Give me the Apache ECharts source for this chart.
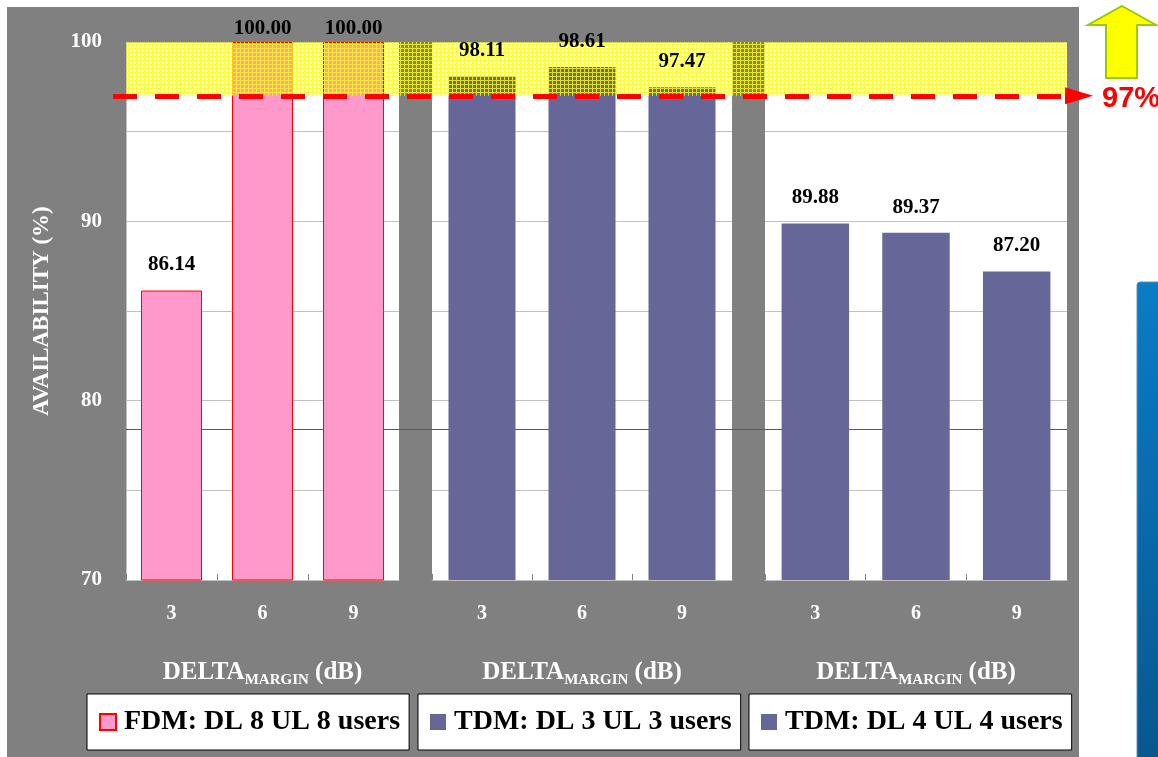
<!DOCTYPE html>
<html>
<head>
<meta charset="utf-8">
<script src="https://cdn.jsdelivr.net/npm/echarts@6/dist/echarts.min.js"></script>
<style>
html,body{margin:0;padding:0;background:#fff;}
#chart{width:1158px;height:757px;}
</style>
</head>
<body>
<div id="chart"></div>
<script>
// ---- data ----
const categories = ['3', '6', '9'];
const seriesNames = ['FDM: DL 8 UL 8 users', 'TDM: DL 3 UL 3 users', 'TDM: DL 4 UL 4 users'];
const fdmValues = [86.14, 100.00, 100.00];
const tdm3Values = [98.11, 98.61, 97.47];
const tdm4Values = [89.88, 89.37, 87.20];
const threshold = 97;
const yMin = 70, yMax = 100;
const darkRefLine = 78.4;
const thresholdLabel = '97%';

const SERIF = '"Liberation Serif", "DejaVu Serif", serif';
const WHITE = '#ffffff';

function makePattern() {
  const c = document.createElement('canvas');
  c.width = 4; c.height = 4;
  const g = c.getContext('2d');
  g.fillStyle = 'rgba(255,255,0,0.8)';
  g.fillRect(0, 0, 4, 1);
  g.fillRect(0, 1, 1, 3);
  return c;
}

const chart = echarts.init(document.getElementById('chart'), null, {renderer: 'canvas'});

const grids = [
  {left: 126, right: 759, top: 42, bottom: 177},
  {left: 432, right: 426, top: 42, bottom: 177},
  {left: 765, right: 91, top: 42, bottom: 177},
  {left: 126, right: 91, top: 42, bottom: 177},
  {left: 113, right: 79, top: 42, bottom: 177}
];

function xAxisFor(i) {
  return {
    type: 'category', gridIndex: i, data: categories,
    axisLine: {show: true, lineStyle: {color: '#c0c0c0', width: 1}},
    axisTick: {show: true, inside: true, length: 6, lineStyle: {color: '#808080'}},
    axisLabel: {color: WHITE, fontFamily: SERIF, fontWeight: 'bold', fontSize: 20, margin: 24},
    name: '{a|DELTA}{b|MARGIN}{a| (dB)}',
    nameLocation: 'middle', nameGap: 80,
    nameTextStyle: {
      rich: {
        a: {color: WHITE, fontFamily: SERIF, fontWeight: 'bold', fontSize: 25},
        b: {color: WHITE, fontFamily: SERIF, fontWeight: 'bold', fontSize: 15, verticalAlign: 'bottom', padding: [0, 0, -3, 0]}
      }
    }
  };
}

function yAxisFor(i, showLabels) {
  const ax = {
    type: 'value', gridIndex: i, min: yMin, max: yMax, interval: 5,
    axisLine: {show: showLabels, lineStyle: {color: '#c0c0c0'}},
    axisTick: {show: false},
    splitLine: {show: true, lineStyle: {color: '#c0c0c0', width: 1}},
    axisLabel: {
      show: showLabels, color: WHITE, fontFamily: SERIF, fontWeight: 'bold', fontSize: 21, margin: 24,
      formatter: v => (v % 10 === 0 ? String(v) : '')
    }
  };
  if (showLabels) {
    ax.name = 'AVAILABILITY (%)';
    ax.nameLocation = 'middle';
    ax.nameGap = 72;
    ax.nameRotate = 90;
    ax.nameTextStyle = {color: WHITE, fontFamily: SERIF, fontWeight: 'bold', fontSize: 23};
  }
  return ax;
}

function labelData(values) {
  return values.map(v => (v >= yMax ? {value: v, label: {distance: 3}} : v));
}

function barSeries(name, values, idx, color, border) {
  return {
    name: name, type: 'bar', xAxisIndex: idx, yAxisIndex: idx, z: 2,
    data: values, barWidth: '67%', barGap: '-100%',
    itemStyle: {color: color, borderColor: border || color, borderWidth: border ? 1 : 0}
  };
}

// transparent twin series that only carries the value labels (drawn above the band)
function labelSeries(values, idx) {
  return {
    type: 'bar', xAxisIndex: idx, yAxisIndex: idx, z: 20, silent: true,
    data: labelData(values), barWidth: '67%', barGap: '-100%',
    itemStyle: {color: 'rgba(0,0,0,0)'},
    label: {
      show: true, position: 'top', distance: 15, color: '#000',
      fontFamily: SERIF, fontWeight: 'bold', fontSize: 21,
      formatter: p => Number(p.value).toFixed(2)
    }
  };
}

const legendCommon = {
  orient: 'horizontal', top: 694, backgroundColor: '#fff', borderColor: '#000', borderWidth: 1,
  padding: [14, 9, 14, 12], itemWidth: 16, itemHeight: 16, itemGap: 6, icon: 'rect',
  textStyle: {color: '#000', fontFamily: SERIF, fontWeight: 'bold', fontSize: 28, padding: [0, 0, 0, 3]},
  selectedMode: false
};

const option = {
  backgroundColor: '#ffffff',
  animation: false,
  grid: grids.map((g, i) => Object.assign({show: i < 3, backgroundColor: '#ffffff', borderWidth: 0}, g)),
  xAxis: [xAxisFor(0), xAxisFor(1), xAxisFor(2),
    {type: 'value', gridIndex: 3, min: 0, max: 1, show: false},
    {type: 'value', gridIndex: 4, min: 0, max: 1, show: false}],
  yAxis: [yAxisFor(0, true), yAxisFor(1, false), yAxisFor(2, false),
    {type: 'value', gridIndex: 3, min: yMin, max: yMax, show: false},
    {type: 'value', gridIndex: 4, min: yMin, max: yMax, show: false}],
  legend: [
    Object.assign({}, legendCommon, {left: 87, data: [seriesNames[0]]}),
    Object.assign({}, legendCommon, {left: 418, data: [seriesNames[1]]}),
    Object.assign({}, legendCommon, {left: 749, data: [seriesNames[2]]})
  ],
  series: [
    barSeries(seriesNames[0], fdmValues, 0, '#FF99CC', '#FF0000'),
    barSeries(seriesNames[1], tdm3Values, 1, '#666699'),
    barSeries(seriesNames[2], tdm4Values, 2, '#666699'),
    labelSeries(fdmValues, 0),
    labelSeries(tdm3Values, 1),
    labelSeries(tdm4Values, 2),
    {
      type: 'line', xAxisIndex: 3, yAxisIndex: 3, data: [], silent: true, z: 1,
      markLine: {
        silent: true, z: 1, symbol: ['none', 'none'], label: {show: false},
        lineStyle: {color: '#5a5a5a', width: 1, type: 'solid'},
        data: [{yAxis: darkRefLine}]
      },
      markArea: {
        silent: true, z: 10,
        itemStyle: {color: {image: makePattern(), repeat: 'repeat'}},
        data: [[{yAxis: threshold}, {yAxis: yMax}]]
      }
    },
    {
      type: 'line', xAxisIndex: 4, yAxisIndex: 4, data: [], silent: true, z: 11,
      markLine: {
        silent: true, z: 11, symbol: ['none', 'triangle'], symbolSize: [17, 28],
        label: {show: false},
        lineStyle: {color: '#FF0000', width: 5, type: [24, 18], opacity: 1},
        itemStyle: {color: '#FF0000'},
        data: [{yAxis: threshold}]
      }
    }
  ],
  graphic: [
    {type: 'rect', z: -100, silent: true, shape: {x: 7, y: 7, width: 1072, height: 760}, style: {fill: '#808080'}},
    {type: 'polygon', z: 100, silent: true,
      shape: {points: [[1122, 6], [1156, 25], [1137, 25], [1137, 78], [1106, 78], [1106, 25], [1088, 25]]},
      style: {fill: '#FFFF00', stroke: '#99CC00', lineWidth: 2}},
    {type: 'text', z: 100, silent: true, x: 1102, y: 99,
      style: {text: thresholdLabel, fill: '#FF0000', font: 'bold 29px "Liberation Sans", Arial, sans-serif', verticalAlign: 'middle'}},
    {type: 'rect', z: 100, silent: true, shape: {x: 1137, y: 282, width: 30, height: 480, r: [3, 0, 0, 0]},
      style: {fill: new echarts.graphic.LinearGradient(0, 0, 0, 1, [{offset: 0, color: '#0A7CC6'}, {offset: 1, color: '#08578E'}]),
        stroke: '#5f93b8', lineWidth: 1}}
  ]
};

chart.setOption(option);
</script>
</body>
</html>
